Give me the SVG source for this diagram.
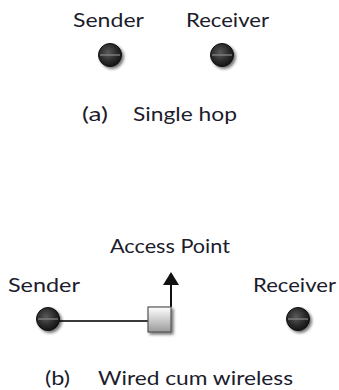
<svg xmlns="http://www.w3.org/2000/svg" width="339" height="390" viewBox="0 0 339 390">
<style>
text{font-family:Lato,"Open Sans","Liberation Sans",sans-serif;font-size:19px;fill:#1c1c2c}
.wire{stroke:#3a3a3a;stroke-width:2;fill:none}
</style>
<defs>
<radialGradient id="ball" cx="0.42" cy="0.4" r="0.65">
<stop offset="0" stop-color="#5a5a5a"/>
<stop offset="0.6" stop-color="#2a2a2a"/>
<stop offset="1" stop-color="#111"/>
</radialGradient>
<linearGradient id="box" x1="0" y1="0" x2="0" y2="1">
<stop offset="0" stop-color="#ffffff"/>
<stop offset="1" stop-color="#9a9a9a"/>
</linearGradient>
<filter id="sh" x="-50%" y="-50%" width="200%" height="200%">
<feGaussianBlur in="SourceAlpha" stdDeviation="1.6"/>
<feOffset dx="1.5" dy="2" result="b"/>
<feComponentTransfer><feFuncA type="linear" slope="0.55"/></feComponentTransfer>
<feMerge><feMergeNode/><feMergeNode in="SourceGraphic"/></feMerge>
</filter>
<symbol id="node" viewBox="-12 -12 24 24" overflow="visible">
<circle r="11.5" fill="url(#ball)" stroke="#111" stroke-width="1" filter="url(#sh)"/>
<line x1="-10" y1="0" x2="10" y2="0" stroke="#8a8a8a" stroke-width="1.2"/>
</symbol>
<marker id="arr" markerWidth="16" markerHeight="14" refX="8" refY="13" orient="0" markerUnits="userSpaceOnUse">
<path d="M0,13 L8,0 L16,13 Z" fill="#111"/>
</marker>
</defs>

<g id="a-sender">
<text x="73" y="27" textLength="71" lengthAdjust="spacingAndGlyphs">Sender</text>
<use href="#node" x="98" y="43" width="24" height="24"/>
</g>
<g id="a-receiver">
<text x="186" y="27" textLength="83" lengthAdjust="spacingAndGlyphs">Receiver</text>
<use href="#node" x="210" y="43" width="24" height="24"/>
</g>
<g id="a-caption">
<text x="82" y="121" textLength="26" lengthAdjust="spacingAndGlyphs">(a)</text>
<text x="133" y="121" textLength="104" lengthAdjust="spacingAndGlyphs">Single hop</text>
</g>

<g id="connectors">
<line class="wire" x1="50" y1="321" x2="148" y2="321"/>
<line x1="171" y1="307" x2="171" y2="285" stroke="#111" stroke-width="2" marker-end="url(#arr)"/>
</g>

<g id="b-sender">
<text x="8" y="292" textLength="72" lengthAdjust="spacingAndGlyphs">Sender</text>
<use href="#node" x="36" y="307" width="24" height="24"/>
</g>
<g id="b-ap">
<text x="110" y="253" textLength="120" lengthAdjust="spacingAndGlyphs">Access Point</text>
<rect x="148" y="307" width="23" height="25" fill="url(#box)" stroke="#555" stroke-width="1.2" filter="url(#sh)"/>
</g>
<g id="b-receiver">
<text x="253" y="292" textLength="83" lengthAdjust="spacingAndGlyphs">Receiver</text>
<use href="#node" x="286" y="307" width="24" height="24"/>
</g>
<g id="b-caption">
<text x="45" y="385" textLength="25" lengthAdjust="spacingAndGlyphs">(b)</text>
<text x="98" y="385" textLength="195" lengthAdjust="spacingAndGlyphs">Wired cum wireless</text>
</g>
</svg>
